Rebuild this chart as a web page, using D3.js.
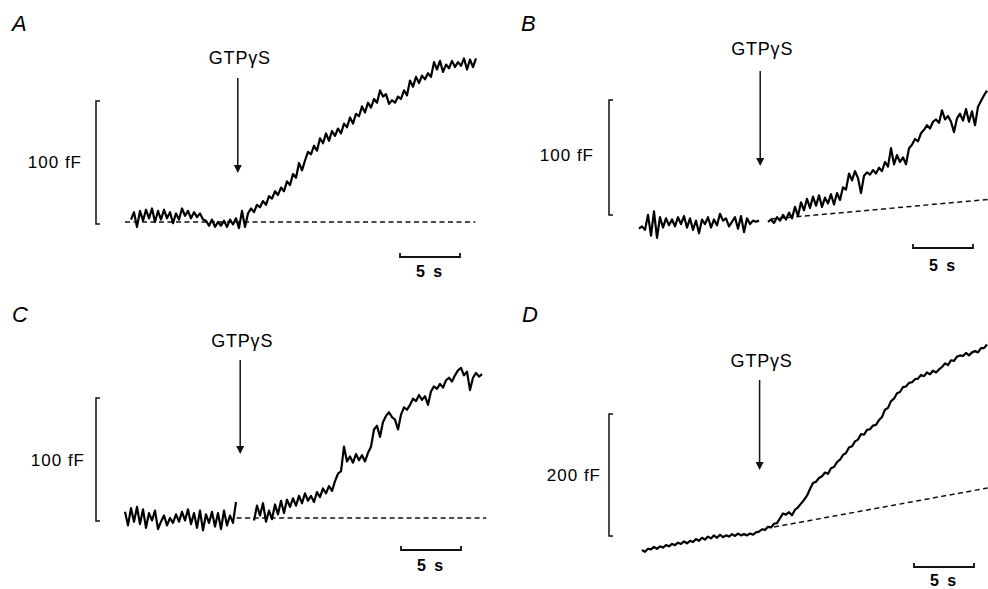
<!DOCTYPE html>
<html>
<head>
<meta charset="utf-8">
<script src="https://cdn.jsdelivr.net/npm/d3@7/dist/d3.min.js"></script>
<style>
  html, body { margin: 0; padding: 0; background: #fff; }
  svg { display: block; }
  text { font-family: "Liberation Sans", Arial, Helvetica, sans-serif; fill: #000; }
</style>
</head>
<body>
<svg id="fig" width="988" height="589"></svg>
<script>
// Membrane capacitance traces (fF), one sample every 0.25 s, relative to the
// pre-stimulus baseline. null marks samples missing from the recording.
const sampleInterval = 0.25; // s

const traceA = [
  2, 8, -4, 9, 1, 10, 3, 11, 0, 9, 2, 10, 3, 8, -1, 7, 2, 11, 5, 9, 3, 8, 4, 7, 2,
  1, -3, 2, -4, 0, -3, 1, -4, 2, -2, 3, -5,
  9, -4, 7,
  11, 8, 14, 12, 17, 14, 21, 19, 25, 22,
  28, 25, 33, 30, 39, 36, 48, 42, 50, 57,
  55, 62, 58, 68, 64, 72, 66, 74, 70, 76,
  72, 80, 77, 85, 80, 88, 86, 94, 89, 97,
  93, 100, 97, 107, 102, 104, 96, 99, 97, 102,
  100, 107, 103, 115, 110, 118, 113, 119, 116, 121,
  118, 130, 124, 131, 122, 128, 125, 131, 126, 130,
  127, 133, 124, 132, 126, 133
];

const traceB = [
  2, 4, 1, 14, -4, 17, -6, 12, 3, 11,
  5, 10, 4, 12, 6, 13, 3, 11, 1, 9,
  -2, 10, 6, 12, 3, 10, 5, 15, 9, 11,
  4, 8, 12, 2, 13, -1, 11, 6, 9, 8, 9,
  null, null,
  8, 10, 7, 12, 9, 14, 10, 16, 11, 21, 13,
  25, 18, 28, 20, 30, 22, 31, 21, 29, 24, 32, 23, 33, 27,
  38, 36, 50, 44, 52, 46, 33, 48, 51, 49,
  53, 50, 55, 52, 60, 56, 72, 58, 66, 60,
  64, 58, 72, 75, 80, 78, 85, 88, 92, 89,
  95, 97, 94, 105, 97, 100, 95, 86, 98, 102,
  96, 106, 95, 104, 92, 108, 113, 118, 122
];

const traceC = [
  5, -6, 8, -3, 9, -5, 7, -8, 4, -2,
  6, -9, -3, 2, -6, 0, -4, 3, -3, 5,
  -2, 7, -5, 4, -8, 6, -10, 3, -4, 5,
  -7, 4, -9, 6, -6, 2, -4, 13,
  null, null, null, null, null,
  -2, 10, 2, 12, -3, 6, -1, 11, 3, 14,
  4, 15, 9, 16, 10, 18, 12, 20, 14, 18,
  13, 21, 17, 24, 20, 26, 22, 30, 36, 38,
  58, 46, 50, 45, 52, 47, 51, 46, 53, 58,
  72, 75, 66, 78, 83, 86, 82, 80, 72, 84,
  90, 88, 92, 97, 95, 100, 96, 99, 92, 103,
  107, 105, 109, 106, 112, 114, 111, 116, 120, 122,
  116, 119, 104, 114, 118, 115, 117
];

const traceD = [
  0, -3, 2, 1, 5, 2, 6, 4, 8, 6,
  10, 8, 12, 10, 14, 11, 15, 13, 18, 15,
  20, 17, 22, 19, 24, 20, 25, 21, 24, 22,
  26, 23, 27, 24, 26, 24, 27, 25, 29, 30,
  34, 33, 38, 37, 43, 44, 52, 60, 58, 62,
  57, 66, 70, 76, 82, 89, 100, 110, 112, 118,
  121, 127, 125, 134, 136, 144, 148, 156, 159, 168,
  170, 178, 181, 190, 189, 197, 198, 204, 205, 213,
  218, 230, 233, 244, 248, 257, 259, 267, 268, 274,
  275, 280, 281, 287, 285, 291, 288, 294, 291, 296,
  300, 306, 303, 311, 310, 317, 319, 318, 323, 319,
  324, 326, 324, 331, 331, 337
];

// Baseline (and linear drift) fits: [time s, capacitance fF]
const baselineA = [[-0.5, 0], [28.7, 0]];
const baselineB = [[11, 10.4], [29.1, 27.4]];
const baselineC = [[9.3, 0], [30.1, 0]];
const baselineD = [[11, 37.7], [28.8, 101.6]];

// Time of GTPγS application (s)
const gtpTimeA = 8.9;
const gtpTimeB = 10.1;
const gtpTimeC = 9.6;
const gtpTimeD = 9.8;

// Calibration bars
const capBarA = 100, capBarB = 100, capBarC = 100, capBarD = 200; // fF
const timeBar = 5; // s
const capLabels = ["100 fF", "100 fF", "100 fF", "200 fF"];
const timeLabel = "5 s";
const panelLetters = ["A", "B", "C", "D"];
const stimLabel = "GTPγS";

// Page geometry for each panel
const panels = [
  { letter: panelLetters[0], trace: traceA, base: baselineA, gtp: gtpTimeA, cap: capBarA, capLabel: capLabels[0],
    x0: 131, y0: 222, pxPerS: 12, pxPerF: 1.23,
    letterPos: [12, 31], stimBaseline: 64, arrowTop: 78, arrowTip: 173,
    barX: 96, barBottom: 224, capLabelX: 82, capLabelY: 168,
    tBarX: 400, tBarY: 257, tLabelY: 277 },
  { letter: panelLetters[1], trace: traceB, base: baselineB, gtp: gtpTimeB, cap: capBarB, capLabel: capLabels[1],
    x0: 639, y0: 231, pxPerS: 12, pxPerF: 1.15,
    letterPos: [521, 31], stimBaseline: 55, arrowTop: 71, arrowTip: 166,
    barX: 609, barBottom: 215, capLabelX: 594, capLabelY: 161,
    tBarX: 913, tBarY: 248, tLabelY: 271 },
  { letter: panelLetters[2], trace: traceC, base: baselineC, gtp: gtpTimeC, cap: capBarC, capLabel: capLabels[2],
    x0: 125, y0: 518, pxPerS: 12, pxPerF: 1.23,
    letterPos: [12, 322], stimBaseline: 347, arrowTop: 360, arrowTip: 454,
    barX: 96, barBottom: 521, capLabelX: 85, capLabelY: 466,
    tBarX: 401, tBarY: 550, tLabelY: 571 },
  { letter: panelLetters[3], trace: traceD, base: baselineD, gtp: gtpTimeD, cap: capBarD, capLabel: capLabels[3],
    x0: 642, y0: 550, pxPerS: 12, pxPerF: 0.61,
    letterPos: [522, 322], stimBaseline: 367, arrowTop: 380, arrowTip: 470,
    barX: 609, barBottom: 536, capLabelX: 601, capLabelY: 481,
    tBarX: 914, tBarY: 567, tLabelY: 586 }
];

const svg = d3.select("#fig");
svg.append("rect").attr("width", 988).attr("height", 589).attr("fill", "#fff");

panels.forEach(p => {
  const g = svg.append("g");
  const x = d3.scaleLinear().domain([0, 30]).range([p.x0, p.x0 + 30 * p.pxPerS]);
  const y = d3.scaleLinear().domain([0, 100]).range([p.y0, p.y0 - 100 * p.pxPerF]);

  // baseline / drift fit
  g.append("path")
    .attr("d", d3.line().x(d => x(d[0])).y(d => y(d[1]))(p.base))
    .attr("fill", "none").attr("stroke", "#111").attr("stroke-width", 1.5)
    .attr("stroke-dasharray", "5,3.5");

  // capacitance trace
  const line = d3.line()
    .defined(d => d != null)
    .x((d, i) => x(i * sampleInterval))
    .y(d => y(d));
  g.append("path")
    .attr("d", line(p.trace))
    .attr("fill", "none").attr("stroke", "#000").attr("stroke-width", 2.2)
    .attr("stroke-linejoin", "round");

  // stimulus arrow and label
  const ax = x(p.gtp);
  g.append("line")
    .attr("x1", ax).attr("x2", ax).attr("y1", p.arrowTop).attr("y2", p.arrowTip - 6)
    .attr("stroke", "#111").attr("stroke-width", 1.5);
  g.append("path")
    .attr("d", `M${ax - 4},${p.arrowTip - 8} L${ax + 4},${p.arrowTip - 8} L${ax},${p.arrowTip} Z`)
    .attr("fill", "#111");
  g.append("text")
    .attr("x", ax + 2).attr("y", p.stimBaseline)
    .attr("text-anchor", "middle")
    .attr("font-size", 18).attr("letter-spacing", 0.8)
    .text(stimLabel);

  // capacitance calibration bar
  const barLen = y(0) - y(p.cap);
  const top = p.barBottom - barLen;
  g.append("path")
    .attr("d", `M${p.barX + 4},${top} H${p.barX} V${p.barBottom} H${p.barX + 4}`)
    .attr("fill", "none").attr("stroke", "#111").attr("stroke-width", 1.5);
  g.append("text")
    .attr("x", p.capLabelX).attr("y", p.capLabelY)
    .attr("text-anchor", "end")
    .attr("font-size", 17).attr("letter-spacing", 1)
    .text(p.capLabel);

  // time calibration bar
  const tLen = x(timeBar) - x(0);
  g.append("path")
    .attr("d", `M${p.tBarX},${p.tBarY - 4} V${p.tBarY} H${p.tBarX + tLen} V${p.tBarY - 4}`)
    .attr("fill", "none").attr("stroke", "#111").attr("stroke-width", 1.8);
  g.append("text")
    .attr("x", p.tBarX + tLen / 2).attr("y", p.tLabelY)
    .attr("text-anchor", "middle")
    .attr("font-size", 16).attr("font-weight", "bold").attr("letter-spacing", 2)
    .text(timeLabel);

  // panel letter
  g.append("text")
    .attr("x", p.letterPos[0]).attr("y", p.letterPos[1])
    .attr("font-size", 22).attr("font-style", "italic")
    .text(p.letter);
});
</script>
</body>
</html>
